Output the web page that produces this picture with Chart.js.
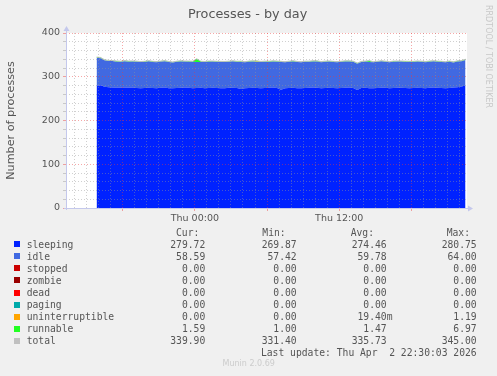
<!DOCTYPE html>
<html><head><meta charset="utf-8">
<script src="https://cdn.jsdelivr.net/npm/chart.js@4/dist/chart.umd.min.js"></script>
<style>
html,body{margin:0;padding:0;background:#f0f0f0;}
#wrap{position:relative;width:497px;height:376px;overflow:hidden;}
canvas{position:absolute;left:0;top:0;}
.t{position:absolute;white-space:pre;line-height:1;}
.m{font-family:'DejaVu Sans Mono',monospace;font-size:9.7px;color:#555;}
.sq{position:absolute;width:6px;height:6px;}
</style></head><body>
<div id="wrap"><canvas id="c" width="497" height="376"></canvas><div id="ov"></div></div>
<script>
// ---- data ----
const seriesNames = ['sleeping','idle','stopped','zombie','dead','paging','uninterruptible','runnable','total'];
const seriesColors = ['#0022ff','#4169e1','#cc0000','#990000','#ff0000','#00aaaa','#ffa500','#22ff22','#c0c0c0'];
// sample times: hours relative to Thu 00:00, one sample every 20 minutes from Wed 15:50
const firstSampleHour = -8.17;
const sampleStepHours = 1/3;
const sleeping = [
 279.2, 280.75, 277.1, 276.0, 275.6, 275.1, 274.6, 275.3, 274.9, 275.6,
 274.2, 273.8, 274.5, 275.0, 274.1, 273.6, 274.8, 275.2, 274.0, 273.5,
 274.3, 274.9, 275.4, 274.6, 273.9, 274.2, 274.7, 273.8, 274.4, 275.1,
 274.5, 273.7, 274.0, 274.6, 275.0, 274.3, 272.1, 273.9, 274.5, 274.8,
 274.2, 273.6, 274.1, 274.7, 275.3, 274.4, 270.5, 273.8, 274.3, 274.9,
 274.0, 273.5, 274.2, 274.8, 275.2, 274.6, 273.9, 274.4, 274.9, 274.1,
 273.7, 274.3, 274.8, 275.4, 274.5, 269.87, 274.2, 274.7, 274.0, 273.6,
 274.4, 275.0, 274.6, 273.9, 274.3, 274.8, 275.1, 274.2, 273.7, 274.5,
 275.0, 274.4, 273.8, 274.6, 275.2, 274.7, 274.1, 273.9, 274.5, 275.3,
 276.2, 277.5, 279.72];
const idle = [
 64.00, 61.8, 60.5, 59.9, 60.2, 59.4, 59.8, 60.1, 59.6, 59.3,
 60.0, 59.7, 59.2, 60.4, 59.9, 59.5, 59.8, 60.3, 59.6, 59.1,
 59.9, 60.2, 59.4, 59.7, 60.5, 59.8, 59.3, 59.9, 60.1, 59.6,
 59.2, 60.0, 59.8, 59.5, 60.3, 59.7, 61.9, 59.4, 59.8, 60.2,
 59.6, 59.9, 60.4, 59.3, 59.7, 60.1, 63.2, 59.5, 59.9, 60.2,
 59.8, 59.4, 60.0, 59.6, 59.9, 60.3, 59.5, 59.8, 60.1, 59.7,
 59.3, 59.9, 60.2, 59.6, 59.8, 60.0, 59.4, 59.9, 60.0, 59.5,
 59.8, 60.2, 59.7, 59.3, 59.9, 60.1, 59.6, 59.8, 60.3, 59.4,
 59.7, 60.0, 59.5, 59.9, 60.2, 59.6, 59.8, 59.4, 59.9, 57.42,
 58.9, 58.1, 58.59];
const stopped = [
 0,0,0,0,0,0,0,0,0,0, 0,0,0,0,0,0,0,0,0,0, 0,0,0,0,0,0,0,0,0,0,
 0,0,0,0,0,0,0,0,0,0, 0,0,0,0,0,0,0,0,0,0, 0,0,0,0,0,0,0,0,0,0,
 0,0,0,0,0,0,0,0,0,0, 0,0,0,0,0,0,0,0,0,0, 0,0,0,0,0,0,0,0,0,0,
 0,0,0];
const zombie = [
 0,0,0,0,0,0,0,0,0,0, 0,0,0,0,0,0,0,0,0,0, 0,0,0,0,0,0,0,0,0,0,
 0,0,0,0,0,0,0,0,0,0, 0,0,0,0,0,0,0,0,0,0, 0,0,0,0,0,0,0,0,0,0,
 0,0,0,0,0,0,0,0,0,0, 0,0,0,0,0,0,0,0,0,0, 0,0,0,0,0,0,0,0,0,0,
 0,0,0];
const dead = [
 0,0,0,0,0,0,0,0,0,0, 0,0,0,0,0,0,0,0,0,0, 0,0,0,0,0,0,0,0,0,0,
 0,0,0,0,0,0,0,0,0,0, 0,0,0,0,0,0,0,0,0,0, 0,0,0,0,0,0,0,0,0,0,
 0,0,0,0,0,0,0,0,0,0, 0,0,0,0,0,0,0,0,0,0, 0,0,0,0,0,0,0,0,0,0,
 0,0,0];
const paging = [
 0,0,0,0,0,0,0,0,0,0, 0,0,0,0,0,0,0,0,0,0, 0,0,0,0,0,0,0,0,0,0,
 0,0,0,0,0,0,0,0,0,0, 0,0,0,0,0,0,0,0,0,0, 0,0,0,0,0,0,0,0,0,0,
 0,0,0,0,0,0,0,0,0,0, 0,0,0,0,0,0,0,0,0,0, 0,0,0,0,0,0,0,0,0,0,
 0,0,0];
const uninterruptible = [
 0,0,0,0,0,0,0,0,0,0, 0,0,0,0,0,0,0,0,0,0, 0,0,0,0,0,0,0,0,0,0,
 0,0,0,0,0,0,0,0,0,0, 1.19,0,0,0,0,0,0,0,0,0, 0,0,0,0,0,0,0,0,0,0,
 0,0,0,0,0,0,0,0,0,0, 0,0,0,0,0,0,0,0,0,0, 0,0,0,0,0,0,0,0,0,0,
 0,0,0];
const runnable = [
 1.8, 1.5, 1.2, 1.4, 1.3, 1.6, 1.2, 1.5, 1.4, 1.3,
 1.5, 1.2, 1.6, 1.4, 1.3, 1.7, 1.2, 1.4, 1.5, 1.3,
 1.4, 1.6, 1.2, 1.5, 1.3, 6.97, 1.4, 1.2, 1.5, 1.3,
 1.6, 1.4, 1.2, 1.5, 1.3, 1.4, 1.7, 1.2, 1.5, 1.4,
 1.3, 1.5, 1.2, 1.6, 1.4, 1.3, 1.5, 1.2, 1.4, 1.6,
 1.3, 1.5, 1.4, 1.2, 1.6, 1.4, 1.3, 1.5, 1.2, 1.4,
 1.6, 1.3, 1.5, 1.4, 1.2, 1.5, 1.4, 1.3, 2.8, 1.4,
 1.2, 1.5, 1.4, 1.3, 1.6, 1.2, 1.4, 1.5, 1.3, 1.4,
 1.5, 1.2, 1.6, 1.4, 1.3, 1.5, 1.4, 1.2, 1.6, 1.3,
 1.4, 1.5, 1.59];
const total = [
 345.0, 344.1, 338.8, 337.3, 337.1, 336.1, 335.6, 336.9, 335.9, 336.2,
 335.7, 334.7, 335.3, 336.8, 335.3, 334.8, 335.8, 336.9, 335.1, 333.9,
 335.6, 336.7, 336.0, 335.8, 335.7, 340.97, 335.4, 334.9, 336.0, 336.0,
 335.3, 335.1, 335.0, 335.6, 336.6, 335.4, 335.7, 334.5, 335.8, 336.4,
 336.3, 335.0, 335.7, 335.6, 336.4, 335.8, 335.2, 334.5, 335.6, 336.7,
 335.1, 334.4, 335.6, 335.6, 336.7, 336.3, 334.7, 335.7, 336.2, 335.2,
 334.6, 335.5, 336.5, 336.4, 335.5, 331.4, 335.0, 335.9, 336.8, 334.5,
 335.4, 336.7, 335.7, 334.5, 335.8, 336.1, 336.1, 335.5, 335.3, 335.3,
 336.2, 335.6, 334.9, 335.9, 336.7, 335.8, 335.3, 334.5, 336.0, 334.0,
 336.5, 337.1, 339.9];
// legend statistics
const curVals = [279.72, 58.59, 0, 0, 0, 0, 0, 1.59, 339.90];
const minVals = [269.87, 57.42, 0, 0, 0, 0, 0, 1.00, 331.40];
const avgVals = [274.46, 59.78, 0, 0, 0, 0, 0.0194, 1.47, 335.73];
const maxVals = [280.75, 64.00, 0, 0, 0, 0, 1.19, 6.97, 345.00];
const statHeaders = ['Cur:', 'Min:', 'Avg:', 'Max:'];
const xTickLabels = {0: 'Thu 00:00', 12: 'Thu 12:00'};
const xTickHours = [-10,-9,-8,-7,-6,-5,-4,-3,-2,-1,0,1,2,3,4,5,6,7,8,9,10,11,12,13,14,15,16,17,18,19,20,21,22];
const xRange = [-10.71, 22.62];
const yRange = [0, 400];
const titleText = 'Processes - by day';
const yAxisTitle = 'Number of processes';
const lastUpdate = 'Last update: Thu Apr  2 22:30:03 2026';
const footerText = 'Munin 2.0.69';
const sideText = 'RRDTOOL / TOBI OETIKER';

// ---- chart ----
const seriesData = [sleeping, idle, stopped, zombie, dead, paging, uninterruptible, runnable];
const pts = arr => arr.map((v, i) => ({x: firstSampleHour + i * sampleStepHours, y: v}));
const datasets = seriesData.map((arr, k) => ({
  label: seriesNames[k], data: pts(arr), stack: 'procs',
  backgroundColor: seriesColors[k], borderColor: seriesColors[k], borderWidth: 0,
  fill: k === 0 ? 'origin' : '-1', pointRadius: 0, tension: 0
}));
datasets.push({label: 'total', data: pts(total), stack: 'total', order: -1,
  borderColor: seriesColors[8], borderWidth: 1, fill: false, pointRadius: 0, tension: 0});

const GRID_MINOR = 'rgba(150,150,150,0.45)';
const GRID_MAJOR = 'rgba(235,60,60,0.45)';
const AXIS = '#c4c8ec';

const bgPlugin = {
  id: 'bg',
  beforeDraw(chart) {
    const {ctx, chartArea: a} = chart;
    ctx.save(); ctx.fillStyle = '#ffffff';
    ctx.fillRect(a.left, a.top, a.right - a.left, a.bottom - a.top);
    ctx.restore();
  },
  afterDraw(chart) {
    const {ctx, chartArea: a} = chart;
    ctx.save();
    ctx.strokeStyle = AXIS; ctx.fillStyle = AXIS; ctx.lineWidth = 1;
    ctx.beginPath();
    ctx.moveTo(a.left + 0.5, a.bottom + 2); ctx.lineTo(a.left + 0.5, a.top - 3);
    ctx.moveTo(a.left - 2, a.bottom + 0.5); ctx.lineTo(a.right + 2, a.bottom + 0.5);
    ctx.stroke();
    ctx.beginPath();
    ctx.moveTo(a.left - 2.5, a.top - 2); ctx.lineTo(a.left + 3.5, a.top - 2); ctx.lineTo(a.left + 0.5, a.top - 7); ctx.closePath();
    ctx.fill();
    ctx.beginPath();
    ctx.moveTo(a.right + 1, a.bottom - 2.5); ctx.lineTo(a.right + 1, a.bottom + 3.5); ctx.lineTo(a.right + 6, a.bottom + 0.5); ctx.closePath();
    ctx.fill();
    ctx.restore();
  }
};

new Chart(document.getElementById('c'), {
  type: 'line',
  data: {datasets},
  plugins: [bgPlugin],
  options: {
    responsive: false, animation: false, devicePixelRatio: 1,
    layout: {padding: {left: 0, top: 33, right: 30, bottom: 148}},
    plugins: {legend: {display: false}, tooltip: {enabled: false}, title: {display: false}},
    scales: {
      x: {
        type: 'linear', min: xRange[0], max: xRange[1],
        afterBuildTicks: s => { s.ticks = xTickHours.map(v => ({value: v})); },
        afterFit: s => { s.height = 20; },
        grid: {z: 1, lineWidth: 1, tickLength: 3,
          color: c => (c.tick && c.tick.value % 6 === 0) ? GRID_MAJOR : GRID_MINOR,
          tickColor: c => (c.tick && c.tick.value % 6 === 0) ? GRID_MAJOR : 'rgba(0,0,0,0)'},
        border: {display: false, dash: [1, 2]},
        ticks: {autoSkip: false, maxRotation: 0, padding: 2, color: '#555',
          font: {family: 'DejaVu Sans', size: 9.5},
          callback: v => xTickLabels[v] || ''}
      },
      y: {
        stacked: true, min: yRange[0], max: yRange[1],
        afterFit: s => { s.width = 66; },
        grid: {z: 1, lineWidth: 1, tickLength: 3,
          color: c => (c.tick && c.tick.value % 100 === 0) ? GRID_MAJOR : GRID_MINOR,
          tickColor: c => (c.tick && c.tick.value % 100 === 0) ? GRID_MAJOR : GRID_MINOR},
        border: {display: false, dash: [1, 2]},
        ticks: {stepSize: 20, autoSkip: false, padding: 3, color: '#555',
          font: {family: 'DejaVu Sans', size: 9.5},
          callback: v => v % 100 === 0 ? String(v) : ''},
        title: {display: true, text: yAxisTitle, color: '#555', padding: {top: 4, bottom: 0},
          font: {family: 'DejaVu Sans', size: 11.2}}
      }
    }
  }
});

// ---- text overlay ----
const ov = document.getElementById('ov');
function addText(txt, cls, style) {
  const d = document.createElement('div');
  d.className = 't ' + (cls || '');
  d.textContent = txt;
  Object.assign(d.style, style);
  ov.appendChild(d);
  return d;
}
addText(titleText, '', {left: '147.7px', width: '200px', textAlign: 'center', top: '7.5px',
  fontFamily: 'DejaVu Sans', fontSize: '12.8px', color: '#555'});
addText(sideText, '', {left: '483.5px', top: '5px', writingMode: 'vertical-rl',
  fontFamily: 'DejaVu Sans', fontSize: '8px', color: '#c8c8c8', lineHeight: '8px'});
addText(footerText, '', {left: '148.7px', width: '200px', textAlign: 'center', top: '360px',
  fontFamily: 'DejaVu Sans', fontSize: '8px', color: '#cccccc'});

const rowStep = 12.04, headerY = 232.3;
const fmt = v => (v !== 0 && Math.abs(v) < 1) ? (v * 1000).toFixed(2) + 'm' : v.toFixed(2) + ' ';
const headerLeft = [176, 262.3, 350.7, 446.7];
const colRight = [211.1, 302.5, 392.5, 482.5];
statHeaders.forEach((h, j) => addText(h, 'm', {left: headerLeft[j] + 'px', top: (headerY - 4.67) + 'px'}));
const stats = [curVals, minVals, avgVals, maxVals];
seriesNames.forEach((name, i) => {
  const yc = headerY + rowStep * (i + 1);
  const sq = document.createElement('div');
  sq.className = 'sq';
  Object.assign(sq.style, {left: '14px', top: (yc - 3) + 'px', background: seriesColors[i]});
  ov.appendChild(sq);
  addText(name, 'm', {left: '26.7px', top: (yc - 4.67) + 'px'});
  stats.forEach((arr, j) => addText(fmt(arr[i]), 'm', {right: (497 - colRight[j]) + 'px', top: (yc - 4.67) + 'px'}));
});
addText(lastUpdate, 'm', {right: (497 - 476.7) + 'px', top: (headerY + rowStep * 10 - 4.67) + 'px'});
</script>
</body></html>
